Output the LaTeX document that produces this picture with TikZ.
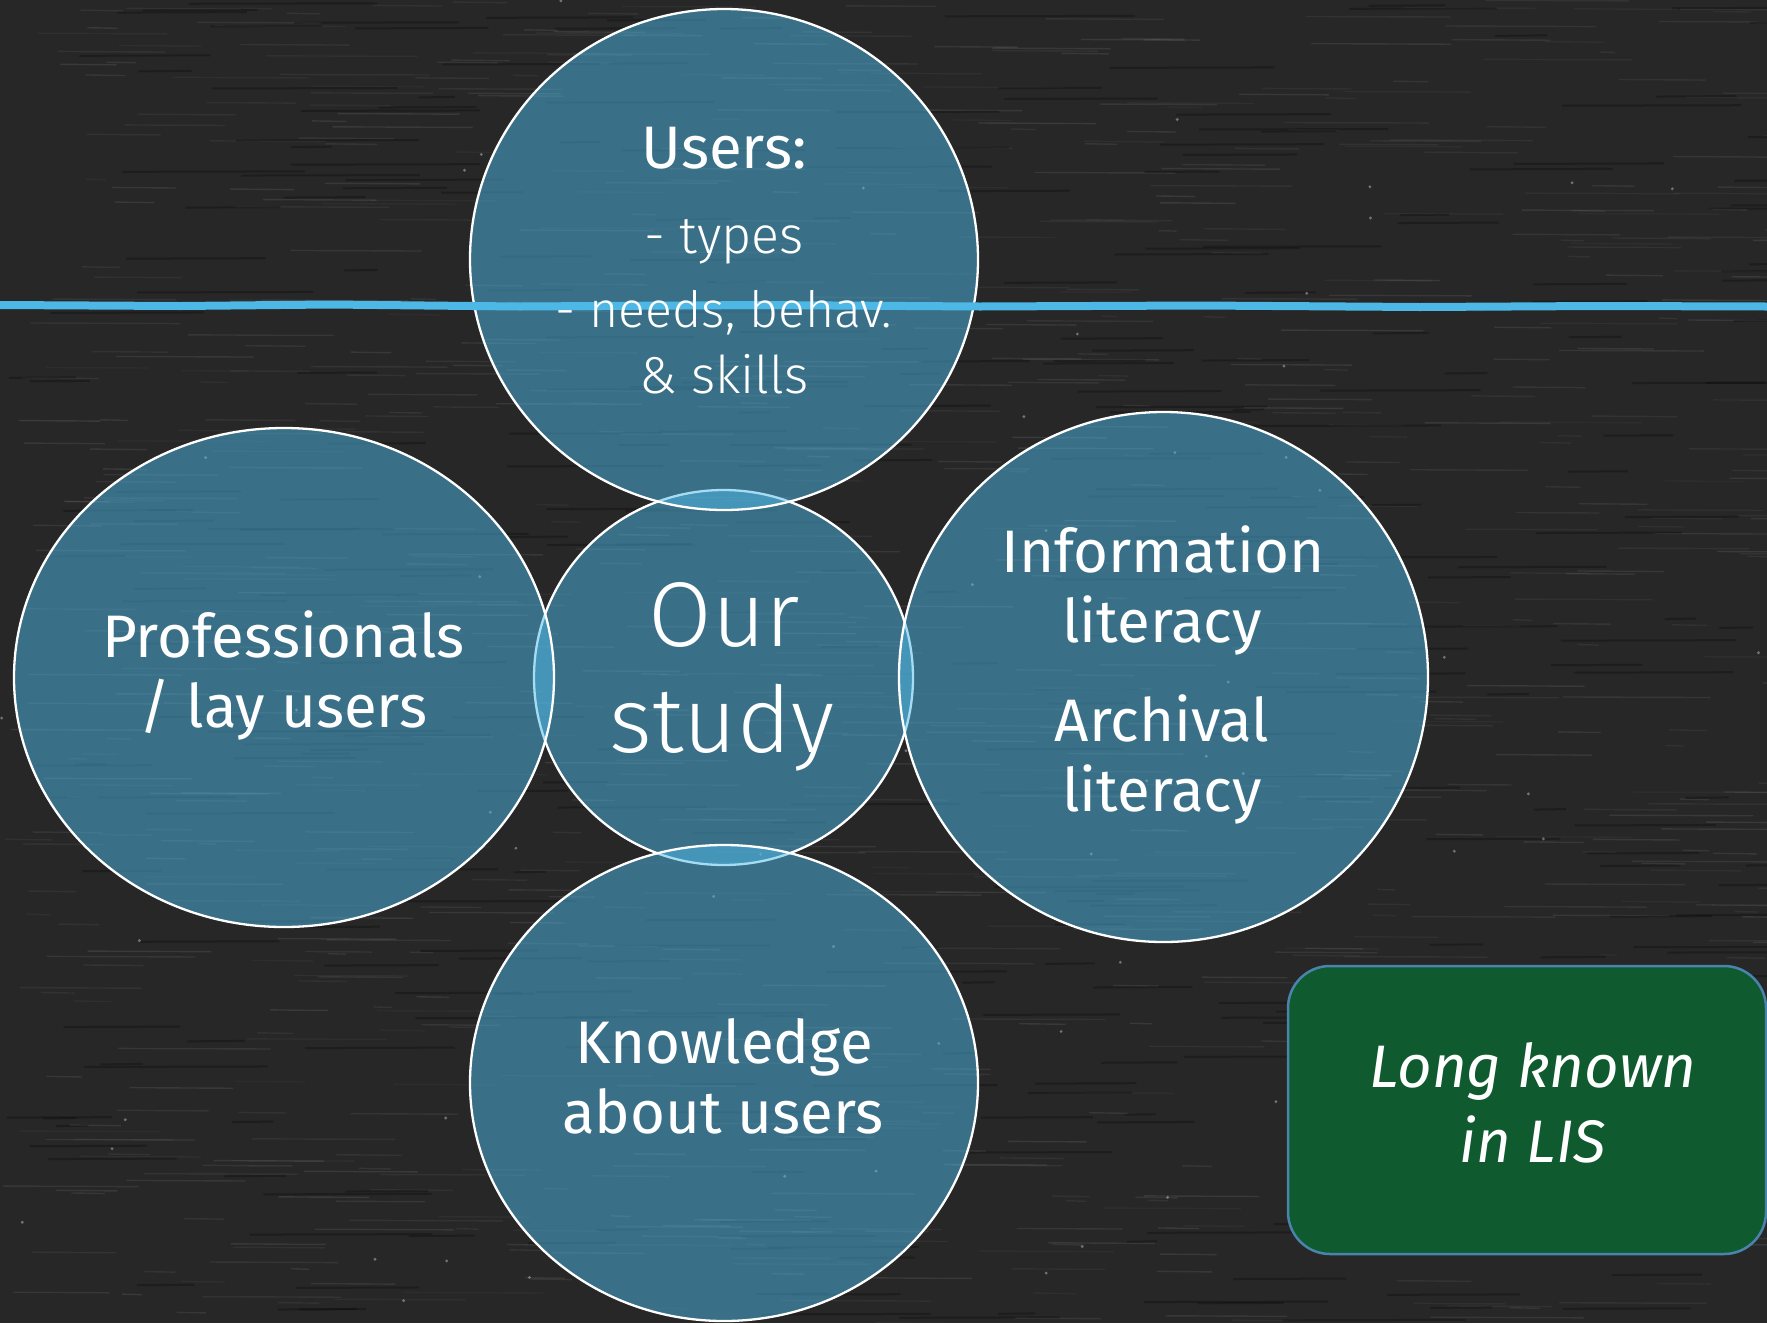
\documentclass[tikz,border=0pt]{standalone}
\usepackage{fontspec}
\setmainfont{Fira Sans}
\newfontfamily\thinfont{Fira Sans Light}
\usetikzlibrary{shapes.geometric}

\definecolor{board}{HTML}{272727}
\definecolor{discblue}{HTML}{4EBAE8}
\definecolor{chalkblue}{HTML}{4DB8E6}
\definecolor{boxgreen}{HTML}{0F5A2E}
\definecolor{boxedge}{HTML}{4A83AB}

\begin{document}
\begin{tikzpicture}[x=1pt,y=-1pt,
  bubble/.style={ellipse, fill=discblue, fill opacity=0.5, draw=white,
    line width=2.3pt, inner sep=0pt},
  word/.style={text=white, anchor=base, inner sep=0pt,
    font=\fontsize{60}{72}\selectfont},
  thinword/.style={word, font=\thinfont\fontsize{52}{62}\selectfont},
  bigthin/.style={word, font=\thinfont\fontsize{92}{110}\selectfont},
  slanted/.style={word, font=\itshape\fontsize{60}{72}\selectfont}]

% chalkboard
\fill[board] (0,0) rectangle (1767,1323);
\useasboundingbox (0,0) rectangle (1767,1323);
\pgfmathsetseed{4242}
\foreach \k in {1,...,900}{
  \pgfmathsetmacro{\sx}{rnd*1767}
  \pgfmathsetmacro{\sy}{rnd*1323}
  \pgfmathsetmacro{\sl}{15+rnd*140}
  \pgfmathsetmacro{\so}{0.03+0.06*rnd}
  \draw[line width=1.4pt, draw=white, draw opacity=\so] (\sx,\sy) -- ++(\sl,0.6);
}
\foreach \k in {1,...,350}{
  \pgfmathsetmacro{\sx}{rnd*1767}
  \pgfmathsetmacro{\sy}{rnd*1323}
  \pgfmathsetmacro{\sl}{30+rnd*160}
  \draw[line width=2pt, draw=black, draw opacity=0.25] (\sx,\sy) -- ++(\sl,-0.5);
}
\foreach \k in {1,...,60}{
  \pgfmathsetmacro{\sx}{rnd*1767}
  \pgfmathsetmacro{\sy}{rnd*1323}
  \fill[white, fill opacity=0.35] (\sx,\sy) circle (1.6pt);
}

% overlapping discs: the central one lies underneath
\node[bubble, minimum width=379pt, minimum height=375pt] (study) at (723.5,677.5) {};
\node[bubble, minimum width=508pt, minimum height=501pt] (users) at (724,259.5) {};
\node[bubble, minimum width=540pt, minimum height=499pt] (prof) at (284,677.5) {};
\node[bubble, minimum width=529pt, minimum height=530pt] (lit) at (1163.5,677) {};
\node[bubble, minimum width=508pt, minimum height=476pt] (know) at (724,1083) {};

% chalk line across the board
\draw[chalkblue, line width=8pt, line join=round]
  (0,305) -- (180,306) -- (330,304.5) -- (520,306.5) -- (760,305) -- (980,306.5)
  -- (1200,305.5) -- (1420,307) -- (1600,306) -- (1767,306.5);

% "Long known" box
\node[rounded corners=42pt, fill=boxgreen, draw=boxedge, line width=2.5pt,
  minimum width=478pt, minimum height=288pt] (lis) at (1527,1110) {};

% texts
\node[word] (u1) at (724,168) {Users:};
\node[thinword] (u2) at (724,253) {- types};
\node[thinword, font=\thinfont\fontsize{50}{60}\selectfont] (u3) at (724,327) {- needs, behav.};
\node[thinword] (u4) at (724,393) {\& skills};

\node[word] (p1) at (283.5,657) {Professionals};
\node[word] (p2) at (283.5,727) {/ lay users};

\node[bigthin] (s1) at (724,646) {Our};
\node[bigthin] (s2) at (722,752) {study};

\node[word] (l1) at (1163,572) {Information};
\node[word] (l2) at (1162,642) {literacy};
\node[word] (l3) at (1162,741) {Archival};
\node[word] (l4) at (1162,811) {literacy};

\node[word] (k1) at (724,1063) {Knowledge};
\node[word] (k2) at (723,1133) {about users};

\node[slanted] (b1) at (1533,1087) {Long known};
\node[slanted] (b2) at (1533,1162) {in LIS};
\end{tikzpicture}
\end{document}
